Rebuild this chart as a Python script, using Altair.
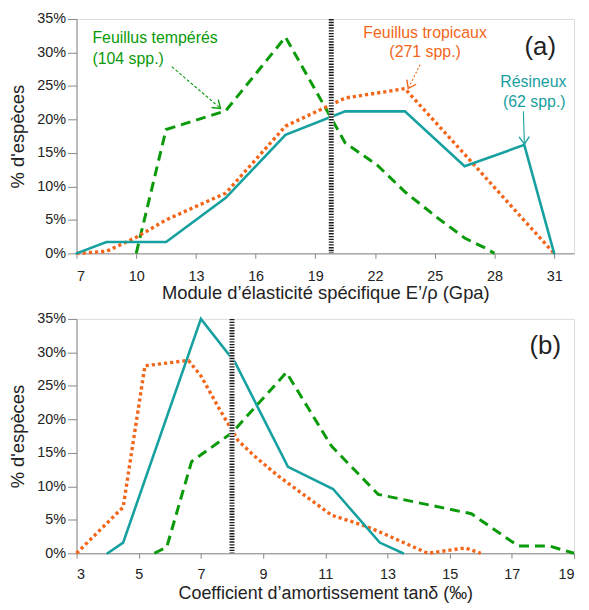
import altair as alt
import pandas as pd

# ---------- data : panel (a) ----------
a_res_x = [7, 8.5, 11.5, 14.5, 17.5, 20.5, 23.5, 26.5, 29.5, 31]
a_res_y = [0, 1.7, 1.7, 8.3, 17.7, 21.2, 21.2, 13.0, 16.2, 0]
a_trop_x = [7, 8.5, 10, 11.5, 14.5, 17.5, 20.5, 23.5, 26.5, 29.5, 31]
a_trop_y = [0, 0.3, 2.4, 5.0, 9.0, 19.0, 23.2, 24.6, 14.8, 4.9, 0]
a_temp_x = [10, 11.5, 14.5, 17.5, 20.5, 22.1, 23.5, 25.1, 26.5, 27.6, 28]
a_temp_y = [0, 18.5, 21.3, 32.3, 16.5, 13.2, 9.2, 5.4, 2.3, 0.7, 0]
a_mark = 19.8

# ---------- data : panel (b) ----------
b_res_x = [4.0, 4.5, 7.0, 8.1, 9.8, 11.25, 12.75, 13.5]
b_res_y = [0, 1.6, 35.0, 28.5, 12.9, 9.6, 1.6, 0]
b_trop_x = [3, 4.5, 5.2, 6.6, 7.0, 7.6, 8.2, 8.8, 9.5, 11.2, 12.2, 12.7, 14.3, 15.5, 16.0]
b_trop_y = [0, 6.9, 28.0, 28.8, 26.5, 21.5, 16.8, 14.2, 11.5, 5.7, 4.2, 3.3, 0, 0.8, 0]
b_temp_x = [5.5, 5.9, 6.7, 8.0, 9.75, 11.2, 12.7, 15.7, 17.2, 18.2, 19]
b_temp_y = [0, 0.9, 13.7, 18.0, 27.0, 16.0, 8.8, 5.9, 1.1, 1.1, 0]
b_mark = 8.0

a_ticks = [7, 10, 13, 16, 19, 22, 25, 28, 31]
b_ticks = [3, 5, 7, 9, 11, 13, 15, 17, 19]
y_ticks = [0, 5, 10, 15, 20, 25, 30, 35]

TEAL = "#17a0a0"
ORANGE = "#f3661a"
GREEN = "#0a9a0a"
FONT = "Liberation Sans"
TXT = "#222222"
W = 501


def df(xs, ys):
    return pd.DataFrame({"x": xs, "y": ys, "i": list(range(len(xs)))})


def panel(res, trop, temp, mark, dom, ticks, xtitle, label, lab_pos, annots,
          H, lab_pad, title_pad, title_size):
    xs = alt.Scale(domain=dom, nice=False, zero=False)
    ys = alt.Scale(domain=[0, 35], nice=False)
    xax = alt.Axis(values=ticks, title=xtitle, grid=False, tickSize=5,
                   labelPadding=lab_pad, titlePadding=title_pad, labelFontSize=14.5,
                   titleFontSize=title_size, labelFont=FONT, titleFont=FONT,
                   titleFontWeight="normal", labelColor=TXT, titleColor=TXT,
                   domainColor="#888", tickColor="#888")
    yax = alt.Axis(values=y_ticks, title="% d'espèces", grid=False, tickSize=9,
                   labelPadding=2, titlePadding=9, labelFontSize=14.5,
                   titleFontSize=18.5, labelFont=FONT, titleFont=FONT,
                   titleFontWeight="normal", labelColor=TXT, titleColor=TXT,
                   domainColor="#888", tickColor="#888",
                   labelExpr="datum.value + '%'")

    def line(d, color, width, dash=None, cap="butt"):
        kw = dict(color=color, strokeWidth=width, strokeCap=cap)
        if dash:
            kw["strokeDash"] = dash
        return alt.Chart(d).mark_line(**kw).encode(
            x=alt.X("x:Q", scale=xs, axis=xax),
            y=alt.Y("y:Q", scale=ys, axis=yax),
            order="i:Q")

    l_temp = line(temp, GREEN, 3, [10, 6])
    l_trop = line(trop, ORANGE, 3.4, [3.2, 3])
    l_res = line(res, TEAL, 2.6, None, "round")

    mdf = pd.DataFrame({"x": [mark]})
    bar_w = alt.Chart(mdf).mark_rule(color="white", strokeWidth=5).encode(
        x=alt.X("x:Q", scale=xs), y=alt.value(0), y2=alt.value(H))
    bar_k = alt.Chart(mdf).mark_rule(color="#1a1a1a", strokeWidth=5,
                                     strokeDash=[1.4, 1.4]).encode(
        x=alt.X("x:Q", scale=xs), y=alt.value(0), y2=alt.value(H))

    layers = [l_temp, l_trop, l_res, bar_w, bar_k]

    lab = alt.Chart(mdf).mark_text(text=label, fontSize=26, font=FONT,
                                   color=TXT, baseline="middle", align="center").encode(
        x=alt.value(lab_pos[0]), y=alt.value(lab_pos[1]))
    layers.append(lab)

    for an in annots:
        for (txt, tx, ty, al) in an["texts"]:
            layers.append(alt.Chart(mdf).mark_text(
                text=txt, fontSize=16, font=FONT, color=an["color"],
                baseline="middle", align=al).encode(
                x=alt.value(tx), y=alt.value(ty)))
        (x1, y1), (x2, y2) = an["arrow"]
        rk = dict(color=an["color"], strokeWidth=1.1)
        if an.get("dash"):
            rk["strokeDash"] = an["dash"]
        layers.append(alt.Chart(mdf).mark_rule(**rk).encode(
            x=alt.value(x1), y=alt.value(y1), x2=alt.value(x2), y2=alt.value(y2)))
        layers.append(alt.Chart(mdf).mark_point(
            shape="M-1,-0.7L0,0L-1,0.7", filled=False, size=220,
            strokeWidth=1.4, color=an["color"], angle=an["angle"], opacity=1).encode(
            x=alt.value(x2), y=alt.value(y2)))

    return alt.layer(*layers).properties(width=W, height=H)


annots_a = [
    {"color": GREEN, "texts": [("Feuillus tempérés", 16, 19.5, "left"),
                               ("(104 spp.)", 16, 40, "left")],
     "arrow": ((96, 48), (145, 90)), "angle": 40.6, "dash": [3, 2]},
    {"color": ORANGE, "texts": [("Feuillus tropicaux", 351, 14, "center"),
                                ("(271 spp.)", 351, 33.5, "center")],
     "arrow": ((346, 46), (334, 70)), "angle": 116.6, "dash": [2, 2]},
    {"color": TEAL, "texts": [("Résineux", 460, 63, "center"),
                              ("(62 spp.)", 461, 83.5, "center")],
     "arrow": ((450, 93), (451, 126)), "angle": 88.3},
]

pa = panel(df(a_res_x, a_res_y), df(a_trop_x, a_trop_y), df(a_temp_x, a_temp_y),
           a_mark, [7, 32], a_ticks,
           "Module d’élasticité spécifique E’/ρ (Gpa)", "(a)", (467, 28), annots_a,
           236, 11, 1, 18.5)
pb = panel(df(b_res_x, b_res_y), df(b_trop_x, b_trop_y), df(b_temp_x, b_temp_y),
           b_mark, [3, 19], b_ticks,
           "Coefficient d’amortissement tanδ (‰)", "(b)", (472, 27.5), [],
           236, 9, 4, 18)

chart = alt.vconcat(pa, pb, spacing=7).properties(
    padding={"left": 0, "top": 0, "right": 0, "bottom": 0}
).configure_view(stroke="#999", strokeWidth=1).configure(background="white")

chart.save("out.html", embed_options={"renderer": "svg", "actions": False})
